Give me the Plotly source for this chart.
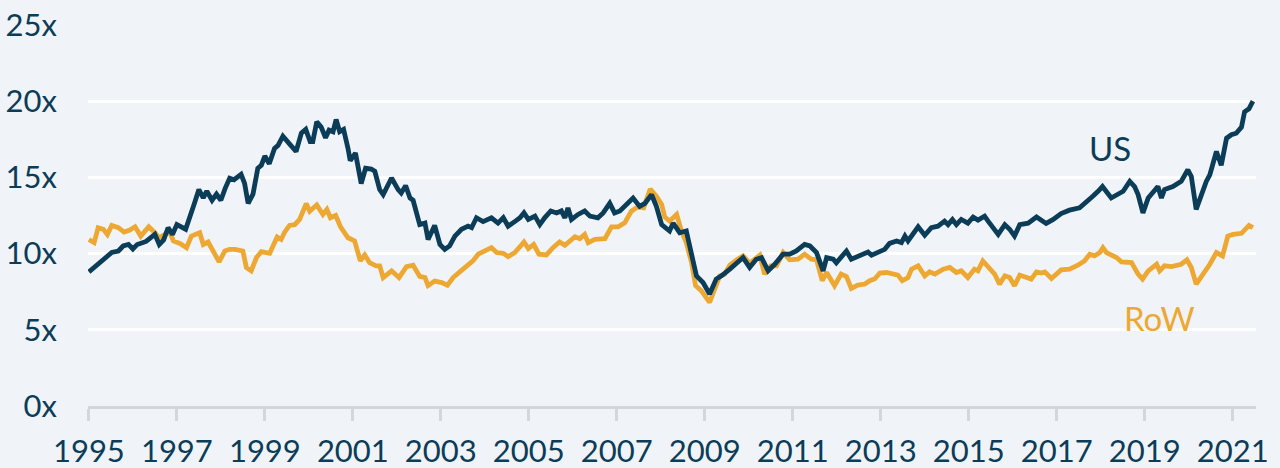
import plotly.graph_objects as go

us_x = [1995.0, 1995.36, 1995.52, 1995.67, 1995.78, 1995.9, 1996.0, 1996.1, 1996.3, 1996.5, 1996.6, 1996.7, 1996.8, 1996.9,
        1997.0, 1997.2, 1997.3, 1997.4, 1997.5, 1997.6, 1997.68, 1997.8, 1997.9, 1998.0, 1998.1, 1998.2, 1998.3, 1998.46,
        1998.54, 1998.62, 1998.73, 1998.84, 1998.92, 1999.0, 1999.1, 1999.22, 1999.3, 1999.41, 1999.56, 1999.71, 1999.83,
        1999.93, 2000.03, 2000.09, 2000.18, 2000.28, 2000.38, 2000.46, 2000.55, 2000.62, 2000.7, 2000.79, 2000.89, 2000.94,
        2001.06, 2001.19, 2001.29, 2001.42, 2001.5, 2001.61, 2001.69, 2001.88, 2002.03, 2002.1, 2002.2, 2002.3, 2002.37,
        2002.52, 2002.64, 2002.71, 2002.86, 2002.98, 2003.09, 2003.2, 2003.32, 2003.47, 2003.62, 2003.7, 2003.81, 2003.96,
        2004.15, 2004.3, 2004.42, 2004.53, 2004.68, 2004.8, 2004.89, 2004.99, 2005.14, 2005.25, 2005.36, 2005.5, 2005.63,
        2005.74, 2005.82, 2005.89, 2005.97, 2006.12, 2006.27, 2006.39, 2006.57, 2006.69, 2006.84, 2006.95, 2007.07, 2007.22,
        2007.37, 2007.52, 2007.64, 2007.79, 2007.9, 2008.02, 2008.13, 2008.2, 2008.28, 2008.43, 2008.58, 2008.7, 2008.81,
        2008.96, 2009.11, 2009.26, 2009.38, 2009.57, 2009.72, 2009.87, 2010.02, 2010.17, 2010.29, 2010.44, 2010.59, 2010.78,
        2010.93, 2011.08, 2011.27, 2011.39, 2011.54, 2011.69, 2011.77, 2011.92, 2011.99, 2012.22, 2012.33, 2012.48, 2012.71,
        2012.79, 2012.94, 2013.09, 2013.2, 2013.36, 2013.47, 2013.55, 2013.62, 2013.85, 2014.0, 2014.15, 2014.3, 2014.45,
        2014.53, 2014.63, 2014.72, 2014.83, 2014.98, 2015.1, 2015.21, 2015.36, 2015.44, 2015.55, 2015.67, 2015.82, 2015.93,
        2016.04, 2016.16, 2016.35, 2016.54, 2016.76, 2016.92, 2017.1, 2017.29, 2017.52, 2017.67, 2017.82, 2017.94, 2018.04,
        2018.24, 2018.39, 2018.51, 2018.66, 2018.77, 2018.85, 2018.96, 2019.08, 2019.19, 2019.3, 2019.38, 2019.45, 2019.64,
        2019.83, 2019.98, 2020.06, 2020.17, 2020.29, 2020.4, 2020.48, 2020.63, 2020.74, 2020.86, 2020.97, 2021.08, 2021.2,
        2021.27, 2021.37, 2021.46]
us_pe = [8.8, 9.74, 10.07, 10.17, 10.5, 10.6, 10.3, 10.6, 10.8, 11.26, 10.6, 10.9, 11.7, 11.26,
         11.9, 11.6, 12.35, 13.3, 14.2, 13.65, 14.1, 13.5, 13.9, 13.5, 14.3, 14.95, 14.85, 15.2,
         14.6, 13.3, 13.9, 15.6, 15.8, 16.4, 15.9, 16.9, 17.1, 17.7, 17.2, 16.7, 17.9,
         18.15, 17.35, 17.35, 18.65, 18.3, 17.6, 18.1, 18.0, 18.8, 18.0, 18.15, 16.9, 16.1,
         16.6, 14.6, 15.6, 15.55, 15.4, 14.2, 13.87, 14.96, 14.2, 13.98, 14.46, 13.65, 13.5,
         11.9, 12.0, 10.93, 11.85, 10.6, 10.28, 10.5, 11.15, 11.6, 11.8, 11.7, 12.35, 12.1,
         12.35, 12.0, 12.35, 11.8, 12.1, 12.35, 12.67, 12.24, 12.46, 11.9, 12.35, 12.8, 12.67,
         12.8, 12.35, 13.0, 12.24, 12.57, 12.8, 12.46, 12.35, 12.67, 13.3, 12.67, 12.8, 13.2,
         13.65, 13.1, 13.3, 13.87, 13.1, 11.9, 11.6, 11.48, 12.0, 11.37, 11.48, 10.07, 8.54,
         8.1, 7.35, 8.33, 8.54, 8.98, 9.4, 9.74, 9.09, 9.63, 9.74, 8.87, 9.3, 9.96,
         9.96, 10.17, 10.6, 10.5, 10.07, 8.87, 9.74, 9.63, 9.4, 10.17, 9.63, 9.85, 10.1,
         9.9, 10.07, 10.28, 10.67, 10.83, 10.72, 11.15, 10.83, 11.76, 11.2, 11.7, 11.8, 12.13,
         11.9, 12.24, 11.9, 12.24, 12.0, 12.4, 12.2, 12.46, 12.13, 11.7, 11.26, 11.9, 11.6,
         11.15, 11.9, 12.0, 12.4, 11.98, 12.24, 12.63, 12.85, 13.0, 13.43, 13.76, 14.09, 14.4,
         13.65, 13.87, 14.09, 14.74, 14.4, 13.87, 12.67, 13.65, 14.09, 14.4, 13.65, 14.2, 14.4,
         14.74, 15.5, 15.06, 12.9, 13.98, 14.74, 15.17, 16.7, 15.8, 17.57, 17.8, 17.9, 18.3,
         19.3, 19.5, 20.0]

row_x = [1995.0, 1995.12, 1995.21, 1995.33, 1995.42, 1995.52, 1995.67, 1995.8, 1995.93, 1996.05, 1996.18, 1996.36,
         1996.5, 1996.59, 1996.73, 1996.84, 1996.92, 1997.07, 1997.22, 1997.33, 1997.52, 1997.6, 1997.71, 1997.83,
         1997.96, 1998.09, 1998.2, 1998.32, 1998.5, 1998.58, 1998.69, 1998.81, 1998.92, 1999.11, 1999.18, 1999.28,
         1999.37, 1999.45, 1999.56, 1999.68, 1999.79, 1999.94, 2000.02, 2000.18, 2000.32, 2000.41, 2000.49, 2000.61,
         2000.72, 2000.89, 2001.04, 2001.17, 2001.27, 2001.38, 2001.53, 2001.61, 2001.69, 2001.88, 2002.05, 2002.22,
         2002.37, 2002.52, 2002.64, 2002.71, 2002.86, 2003.02, 2003.15, 2003.28, 2003.43, 2003.58, 2003.73, 2003.85,
         2004.0, 2004.15, 2004.27, 2004.42, 2004.53, 2004.68, 2004.8, 2004.89, 2004.99, 2005.11, 2005.23, 2005.4,
         2005.55, 2005.7, 2005.82, 2005.93, 2006.05, 2006.16, 2006.27, 2006.35, 2006.5, 2006.73, 2006.88, 2007.03,
         2007.18, 2007.33, 2007.48, 2007.61, 2007.76, 2007.9, 2008.02, 2008.09, 2008.2, 2008.36, 2008.47, 2008.58,
         2008.7, 2008.79, 2008.92, 2009.11, 2009.23, 2009.34, 2009.45, 2009.57, 2009.72, 2009.87, 2010.02, 2010.17,
         2010.25, 2010.36, 2010.5, 2010.63, 2010.78, 2010.93, 2011.12, 2011.27, 2011.42, 2011.54, 2011.67, 2011.77,
         2011.95, 2012.1, 2012.22, 2012.33, 2012.48, 2012.64, 2012.75, 2012.86, 2012.98, 2013.13, 2013.28, 2013.39,
         2013.49, 2013.62, 2013.7, 2013.85, 2014.0, 2014.11, 2014.23, 2014.42, 2014.57, 2014.72, 2014.83, 2014.98,
         2015.13, 2015.21, 2015.32, 2015.48, 2015.59, 2015.7, 2015.82, 2015.93, 2016.04, 2016.16, 2016.31, 2016.42,
         2016.54, 2016.65, 2016.73, 2016.88, 2017.1, 2017.29, 2017.48, 2017.63, 2017.75, 2017.86, 2017.98, 2018.05,
         2018.13, 2018.36, 2018.47, 2018.58, 2018.7, 2018.85, 2018.95, 2019.08, 2019.27, 2019.34, 2019.45, 2019.61,
         2019.83, 2019.96, 2020.06, 2020.17, 2020.33, 2020.48, 2020.63, 2020.77, 2020.89, 2021.01, 2021.2, 2021.27,
         2021.37, 2021.46]
row_pe = [10.93, 10.72, 11.7, 11.59, 11.26, 11.85, 11.7, 11.41, 11.54, 11.76, 11.15, 11.76,
          11.37, 11.04, 11.26, 11.41, 10.83, 10.67, 10.39, 11.15, 11.37, 10.6, 10.76, 10.07,
          9.46, 10.17, 10.28, 10.28, 10.17, 9.09, 8.87, 9.74, 10.13, 10.02, 10.5, 11.09,
          10.93, 11.41, 11.85, 11.9, 12.24, 13.28, 12.78, 13.2, 12.57, 12.9, 12.35, 12.5,
          11.76, 11.04, 10.83, 9.52, 9.91, 9.41, 9.2, 9.2, 8.43, 8.87, 8.43, 9.15,
          9.24, 8.5, 8.43, 7.9, 8.2, 8.1, 7.93, 8.43, 8.8, 9.2, 9.52, 9.96,
          10.17, 10.39, 10.07, 10.02, 9.8, 10.07, 10.45, 10.76, 10.33, 10.6, 9.96, 9.91,
          10.39, 10.76, 10.54, 10.83, 11.11, 10.98, 11.26, 10.72, 10.93, 10.98, 11.76, 11.76,
          12.02, 12.78, 13.07, 13.0, 14.24, 13.76, 13.22, 12.4, 12.13, 12.57, 11.48, 10.72,
          9.41, 7.9, 7.57, 6.8, 7.67, 8.54, 8.65, 9.24, 9.59, 9.85, 9.37, 9.74,
          9.89, 8.65, 9.2, 9.2, 10.07, 9.59, 9.63, 9.96, 9.63, 9.59, 8.22, 8.76,
          7.89, 8.65, 8.5, 7.72, 7.93, 8.0, 8.22, 8.33, 8.72, 8.76, 8.65, 8.59,
          8.22, 8.43, 8.98, 9.2, 8.54, 8.8, 8.65, 8.98, 9.09, 8.76, 8.87, 8.43,
          8.98, 8.87, 9.52, 8.98, 8.65, 8.0, 8.54, 8.43, 7.89, 8.59, 8.43, 8.33,
          8.8, 8.72, 8.8, 8.37, 8.93, 8.98, 9.24, 9.52, 9.96, 9.85, 10.07, 10.39,
          10.07, 9.74, 9.46, 9.41, 9.41, 8.65, 8.33, 8.87, 9.3, 8.87, 9.2, 9.15,
          9.3, 9.59, 9.09, 8.0, 8.65, 9.3, 10.07, 9.85, 11.15, 11.26, 11.33, 11.59,
          11.85, 11.7]

y_ticks = [0, 5, 10, 15, 20, 25]
y_labels = ["0x", "5x", "10x", "15x", "20x", "25x"]
x_ticks = [1995, 1997, 1999, 2001, 2003, 2005, 2007, 2009, 2011, 2013, 2015, 2017, 2019, 2021]
x_labels = [str(v) for v in x_ticks]

NAVY = "#0b3c58"
GOLD = "#eda834"
BG = "#f0f4f8"
FONT = "Lato"

fig = go.Figure()
fig.add_trace(go.Scatter(x=row_x, y=row_pe, mode="lines", name="RoW",
                         line=dict(color=GOLD, width=4.8)))
fig.add_trace(go.Scatter(x=us_x, y=us_pe, mode="lines", name="US",
                         line=dict(color=NAVY, width=4.8)))

fig.add_annotation(x=2018.2, y=16.9, text="US", showarrow=False,
                   font=dict(family=FONT, size=33, color=NAVY))
fig.add_annotation(x=2019.34, y=5.8, text="RoW", showarrow=False,
                   font=dict(family=FONT, size=33, color=GOLD))

fig.update_layout(
    width=1280, height=468,
    margin=dict(l=88, r=24, t=25, b=62),
    paper_bgcolor=BG, plot_bgcolor=BG,
    showlegend=False,
    font=dict(family=FONT, color=NAVY),
)
fig.update_xaxes(
    range=[1994.98, 2021.53], automargin=False,
    tickmode="array", tickvals=x_ticks, ticktext=x_labels,
    showgrid=False, zeroline=False,
    showline=True, linecolor="#d3d7dc", linewidth=3,
    ticks="outside", ticklen=12, tickwidth=3, tickcolor="#d3d7dc",
    tickfont=dict(family=FONT, size=31, color=NAVY),
    ticklabelstandoff=4,
)
fig.update_yaxes(
    range=[0, 25], automargin=False,
    tickmode="array", tickvals=y_ticks, ticktext=y_labels,
    showgrid=True, gridcolor="#ffffff", gridwidth=3,
    zeroline=False, showline=False,
    tickfont=dict(family=FONT, size=31, color=NAVY),
    ticklabelstandoff=30,
)

fig.write_html(
    "out.html",
    config={"displayModeBar": False},
    post_script="document.body.style.margin='0';document.body.style.overflow='hidden';document.body.style.background='" + BG + "';",
)
